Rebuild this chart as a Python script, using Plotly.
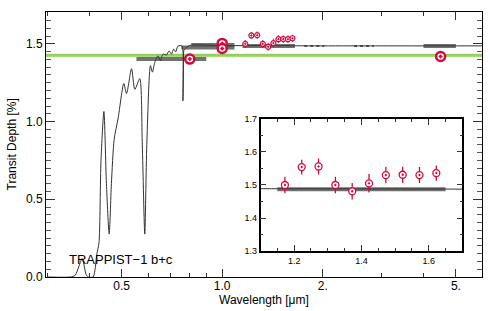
import plotly.graph_objects as go

# ---------------- data ----------------
# model spectrum (wavelength in micron, transit depth in %)
model_wl = [0.30, 0.351, 0.363, 0.373, 0.381, 0.386, 0.391, 0.397, 0.411, 0.416, 0.422,
            0.428, 0.434, 0.4428, 0.4505, 0.4592, 0.4662, 0.4752, 0.4885, 0.5078, 0.5174,
            0.5356, 0.5478, 0.5668, 0.5768, 0.5867, 0.5949, 0.6101, 0.6185, 0.6283, 0.6427,
            0.6534, 0.6652, 0.6809, 0.6933, 0.7047, 0.7158, 0.7259, 0.7374, 0.758, 0.763,
            0.768, 0.772, 0.799, 1.0, 1.5, 2.0, 3.0, 4.5, 6.0]
model_depth = [0.0, 0.0, 0.01, 0.07, 0.12, 0.08, 0.02, 0.0, 0.0, 0.04, 0.15,
               0.22, 0.75, 1.065, 0.6, 0.276, 0.6, 0.886, 1.023, 1.245, 1.18,
               1.34, 1.207, 1.276, 0.85, 0.276, 0.85, 1.36, 1.318, 1.38, 1.423,
               1.392, 1.434, 1.428, 1.455, 1.434, 1.466, 1.449, 1.486, 1.486, 1.133,
               1.46, 1.466, 1.49, 1.489, 1.488, 1.487, 1.487, 1.487, 1.487]

# band-integrated model values (thick grey bars)
bar_lo = [0.554, 0.755, 0.808, 1.15, 4.0]
bar_hi = [0.896, 1.088, 1.088, 1.65, 5.0]
bar_val = [1.402, 1.476, 1.492, 1.487, 1.487]
# faint dotted bins
dot_lo = [1.76, 2.48]
dot_hi = [2.02, 2.84]
dot_val = [1.487, 1.487]

# HST/WFC3 spectrum
wfc3_wl = [1.1725, 1.2225, 1.2725, 1.3225, 1.3725, 1.4225, 1.4725, 1.5225, 1.5725, 1.6225]
wfc3_depth = [1.500, 1.554, 1.556, 1.500, 1.481, 1.505, 1.530, 1.531, 1.530, 1.536]
wfc3_err = [0.025, 0.022, 0.024, 0.025, 0.025, 0.028, 0.025, 0.024, 0.024, 0.023]

# broadband points
bb_wl = [0.80, 1.0, 1.0, 4.5]
bb_depth = [1.402, 1.503, 1.470, 1.419]
bb_err = [0.015, 0.03, 0.03, 0.008]

# flat-line band (green)
flat_lo = 1.418
flat_hi = 1.434

label_text = "TRAPPIST\u22121 b+c"

x_major = [0.5, 1.0, 2.0, 5.0]
x_major_text = ["0.5", "1.0", "2.", "5."]
x_minor = [0.3, 0.4, 0.6, 0.7, 0.8, 0.9, 3.0, 4.0, 6.0]
y_major = [0.0, 0.5, 1.0, 1.5]
y_major_text = ["0.0", "0.5", "1.0", "1.5"]
ix_major = [1.2, 1.4, 1.6]
ix_major_text = ["1.2", "1.4", "1.6"]
iy_major = [1.3, 1.4, 1.5, 1.6, 1.7]
iy_major_text = ["1.3", "1.4", "1.5", "1.6", "1.7"]

# ---------------- figure ----------------
RED = "#d6083b"
GREY = "#5a5a5a"
FONT = "Liberation Sans, Arial, Helvetica, sans-serif"

fig = go.Figure()

for ax in [("x", "y"), ("x2", "y2")]:
    # thick grey bars
    for lo, hi, v in zip(bar_lo, bar_hi, bar_val):
        fig.add_trace(go.Scatter(x=[lo, hi], y=[v, v], mode="lines",
                                 line=dict(color=GREY, width=4), opacity=0.85,
                                 xaxis=ax[0], yaxis=ax[1], showlegend=False,
                                 hoverinfo="skip"))
    for lo, hi, v in zip(dot_lo, dot_hi, dot_val):
        fig.add_trace(go.Scatter(x=[lo, hi], y=[v, v], mode="lines",
                                 line=dict(color=GREY, width=2, dash="dot"),
                                 xaxis=ax[0], yaxis=ax[1], showlegend=False,
                                 hoverinfo="skip"))
    # model line
    fig.add_trace(go.Scatter(x=model_wl, y=model_depth, mode="lines",
                             line=dict(color="#333333", width=1, shape="spline",
                                       smoothing=0.7),
                             xaxis=ax[0], yaxis=ax[1], showlegend=False,
                             hoverinfo="skip"))

# WFC3 points, main panel
fig.add_trace(go.Scatter(x=wfc3_wl, y=wfc3_depth, mode="markers",
                         error_y=dict(type="data", array=wfc3_err, color=RED,
                                      thickness=1, width=0),
                         marker=dict(symbol="circle-dot", size=5, color="white",
                                     line=dict(color=RED, width=1.2)),
                         xaxis="x", yaxis="y", showlegend=False))
# broadband points
fig.add_trace(go.Scatter(x=bb_wl, y=bb_depth, mode="markers",
                         error_y=dict(type="data", array=bb_err, color=RED,
                                      thickness=1.5, width=0),
                         marker=dict(symbol="circle-dot", size=9, color="white",
                                     line=dict(color=RED, width=2.5)),
                         xaxis="x", yaxis="y", showlegend=False))
# WFC3 points, inset
fig.add_trace(go.Scatter(x=wfc3_wl, y=wfc3_depth, mode="markers",
                         error_y=dict(type="data", array=wfc3_err, color=RED,
                                      thickness=1.3, width=0),
                         marker=dict(symbol="circle-dot", size=7, color="white",
                                     line=dict(color=RED, width=1.3)),
                         xaxis="x2", yaxis="y2", showlegend=False))

# green flat band
for xr, yr in [("x domain", "y"), ("x2 domain", "y2")]:
    fig.add_shape(type="rect", xref=xr, yref=yr, x0=0, x1=1, y0=flat_lo, y1=flat_hi,
                  fillcolor="#98d25c", line=dict(color="#86c44a", width=0.5),
                  layer="below")

axis_common = dict(showgrid=False, zeroline=False, showline=True, linecolor="black",
                   linewidth=1, mirror="ticks", ticks="inside", tickcolor="#333333",
                   tickwidth=1)

fig.update_layout(
    width=490, height=311,
    margin=dict(l=46, r=7, t=7, b=34),
    paper_bgcolor="white", plot_bgcolor="white",
    font=dict(family=FONT, size=12, color="black"),
    xaxis=dict(type="log", range=[-0.527, 0.777], tickmode="array",
               tickvals=x_major, ticktext=x_major_text, ticklen=8,
               ticklabelstandoff=-2,
               minor=dict(tickmode="array", tickvals=x_minor, ticklen=4,
                          ticks="inside", tickcolor="#333333", tickwidth=1),
               tickfont=dict(size=12), **axis_common),
    yaxis=dict(range=[0, 1.705], tickmode="array", tickvals=y_major,
               ticktext=y_major_text, ticklen=9,
               minor=dict(tickmode="linear", tick0=0, dtick=0.05, ticklen=5,
                          ticks="inside", tickcolor="#555555", tickwidth=1),
               tickfont=dict(size=12), **axis_common),
    xaxis2=dict(domain=[0.492, 0.955], anchor="y2", range=[1.1, 1.7],
                tickmode="array", tickvals=ix_major, ticktext=ix_major_text,
                ticklen=6,
                minor=dict(tickmode="linear", tick0=1.1, dtick=0.05, ticklen=3,
                           ticks="inside", tickcolor="#333333", tickwidth=1),
                tickfont=dict(size=9),
                showgrid=False, zeroline=False, showline=True, linecolor="black",
                linewidth=1.5, mirror="ticks", ticks="inside", tickcolor="#333333",
                tickwidth=1),
    yaxis2=dict(domain=[0.0974, 0.597], anchor="x2", range=[1.3, 1.7],
                tickmode="array", tickvals=iy_major, ticktext=iy_major_text,
                ticklen=6,
                minor=dict(tickmode="linear", tick0=1.3, dtick=0.05, ticklen=3,
                           ticks="inside", tickcolor="#333333", tickwidth=1),
                tickfont=dict(size=9),
                showgrid=False, zeroline=False, showline=True, linecolor="black",
                linewidth=1.5, mirror="ticks", ticks="inside", tickcolor="#333333",
                tickwidth=1),
)

# label (log axis: x in log10 units)
fig.add_annotation(x=-0.4647, y=0.114, xref="x", yref="y", xanchor="left",
                   yanchor="middle", text=label_text, showarrow=False,
                   font=dict(size=13, family=FONT, color="black"))

fig.add_annotation(x=-0.078, y=0.5, xref="paper", yref="paper", text="Transit Depth [%]",
                   textangle=-90, showarrow=False, xanchor="center", yanchor="middle",
                   font=dict(size=12, family=FONT))
fig.add_annotation(x=0.5, y=-0.086, xref="paper", yref="paper", text="Wavelength [\u03bcm]",
                   showarrow=False, xanchor="center", yanchor="middle",
                   font=dict(size=12, family=FONT))

fig.write_html("out.html", config={"displayModeBar": False},
               post_script="document.body.style.margin='0';document.body.style.overflow='hidden';")
